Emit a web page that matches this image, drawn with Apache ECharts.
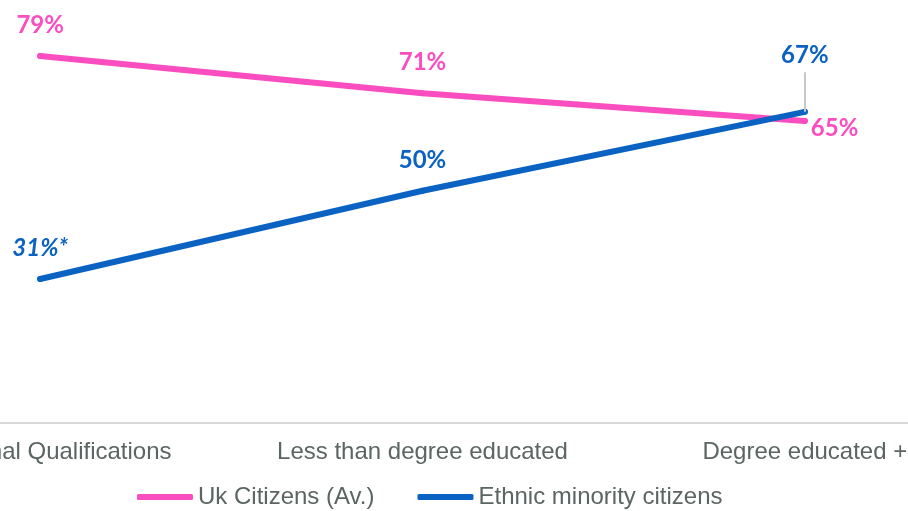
<!DOCTYPE html>
<html>
<head>
<meta charset="utf-8">
<script src="https://cdn.jsdelivr.net/npm/echarts@6/dist/echarts.min.js"></script>
<style>
  html, body { margin: 0; padding: 0; background: #fff; }
  #main { width: 908px; height: 511px; }
</style>
</head>
<body>
<div id="main"></div>
<script>
// data
const categories = ['No Formal Qualifications', 'Less than degree educated', 'Degree educated +'];
const ukCitizens = [79, 71, 65];
const ethnicMinority = [31, 50, 67];
const seriesNames = ['Uk Citizens (Av.)', 'Ethnic minority citizens'];

const pink = '#fa4dbf';
const blue = '#0a62c2';

const myChart = echarts.init(document.getElementById('main'));

const labelFont = {
  fontFamily: 'Lato',
  fontWeight: 'bold',
  fontSize: 24,
};

// pink labels: last one sits to the right of the point
const ukData = ukCitizens.map((v, i) => {
  const item = { value: v };
  if (i === 2) {
    item.label = { position: 'right', distance: 3, offset: [0, 7] };
  }
  return item;
});

// blue labels: first is italic with asterisk, last is lifted with a leader line
const ethnicData = ethnicMinority.map((v, i) => {
  const item = { value: v };
  if (i === 0) {
    item.label = { fontStyle: 'italic', formatter: '{c}%*' };
  }
  if (i === 2) {
    item.label = { distance: 42 };
  }
  return item;
});

const option = {
  animation: false,
  grid: {
    left: -151,
    right: -88,
    top: 5,
    bottom: 88,
    outerBoundsMode: 'none',
  },
  legend: {
    data: seriesNames,
    left: 132,
    bottom: -3,
    itemWidth: 56,
    itemHeight: 6,
    itemGap: 43,
    icon: 'roundRect',
    textStyle: {
      fontFamily: 'Liberation Sans',
      fontSize: 24,
      color: '#5b6563',
      padding: [0, 0, 0, 0],
    },
  },
  xAxis: {
    type: 'category',
    data: categories,
    axisTick: { show: false },
    axisLine: { lineStyle: { color: '#d9d9d9', width: 2 } },
    axisLabel: {
      interval: 0,
      margin: 17,
      fontFamily: 'Liberation Sans',
      fontSize: 24,
      color: '#5b6563',
    },
  },
  yAxis: {
    type: 'value',
    min: 0,
    max: 90,
    show: false,
    splitLine: { show: false },
  },
  series: [
    {
      name: seriesNames[0],
      type: 'line',
      data: ukData,
      symbol: 'circle',
      symbolSize: 6,
      itemStyle: { color: pink },
      lineStyle: { color: pink, width: 6, cap: 'round' },
      label: {
        show: true,
        position: 'top',
        distance: 16,
        formatter: '{c}%',
        color: pink,
        ...labelFont,
      },
      z: 2,
    },
    {
      name: seriesNames[1],
      type: 'line',
      data: ethnicData,
      symbol: 'circle',
      symbolSize: 6,
      itemStyle: { color: blue },
      lineStyle: { color: blue, width: 6, cap: 'round' },
      label: {
        show: true,
        position: 'top',
        distance: 16,
        formatter: '{c}%',
        color: blue,
        ...labelFont,
      },
      markLine: {
        silent: true,
        symbol: 'none',
        label: { show: false },
        lineStyle: { color: '#c3c9c9', width: 2, type: 'solid' },
        data: [[{ coord: [2, 67] }, { coord: [2, 75.5] }]],
      },
      z: 3,
    },
  ],
};

myChart.setOption(option);
</script>
</body>
</html>
